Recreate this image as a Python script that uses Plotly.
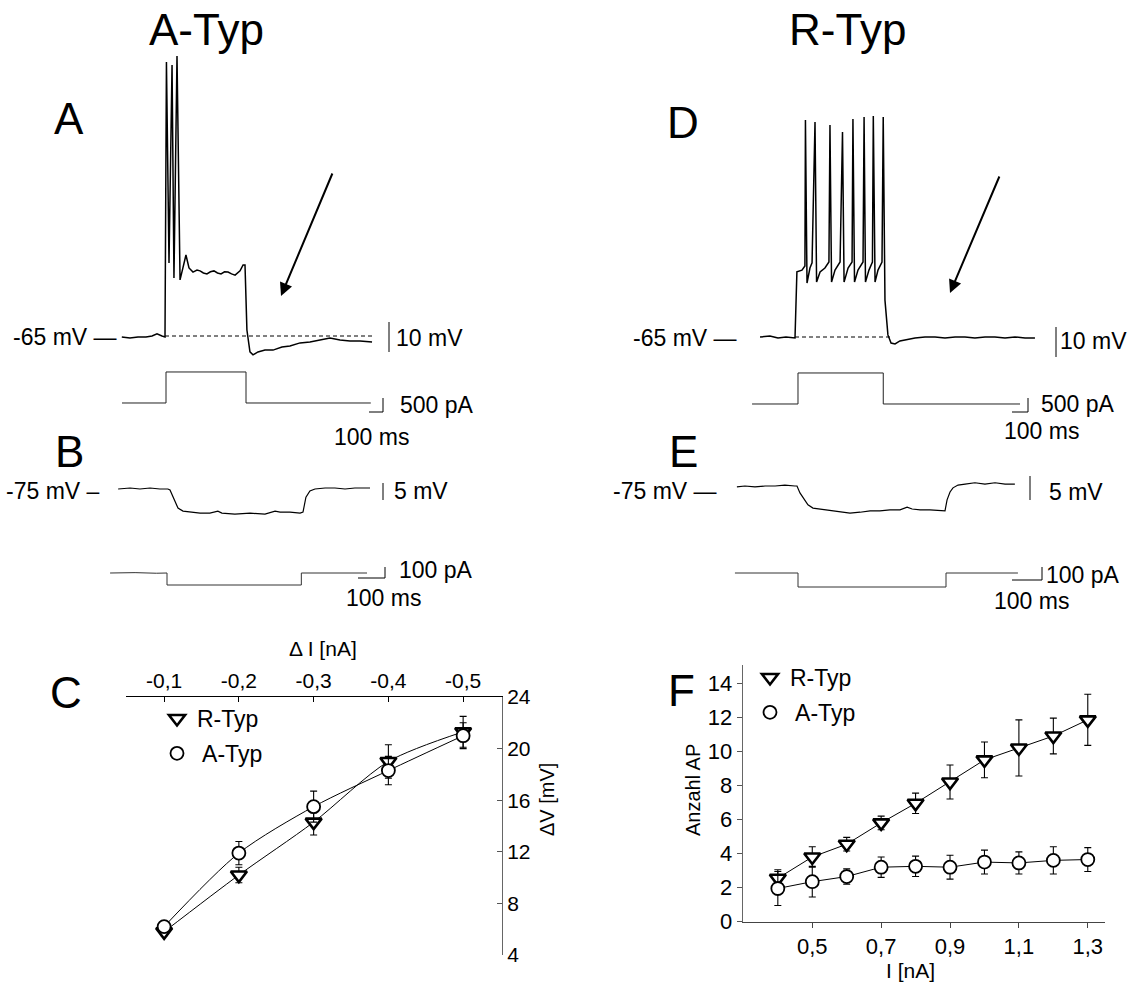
import plotly.graph_objects as go

W, H = 1127, 985
FONT = "Liberation Sans, Arial, Helvetica, sans-serif"

# ---------------- data ----------------
# Panel A (A-Typ, depolarising step): membrane potential [mV] vs time [ms]
A_V_t = [-270, -219, -169, -119, -81, -50, -19, 0, 9, 25, 44, 56, 75, 94, 112, 131, 150, 175,
         200, 219, 240, 262, 284, 306, 328, 350, 372, 394, 416, 438, 469, 488, 500,
         512, 531, 550, 581, 625, 675, 731, 781, 844, 906, 969, 1031, 1094, 1156, 1219, 1294]
A_V_mv = [-65.3, -65.7, -65.3, -65.3, -65.0, -64.3, -65.0, -65.3, 26.3, -40.7, 25.3, -45.7, 28.3, -46.3, -42.3, -38.0, -42.3, -43.7,
          -43.0, -43.3, -44.0, -44.3, -43.6, -43.3, -44.0, -44.3, -43.6, -43.7, -44.3, -44.7, -43.3, -41.3, -41.3,
          -63.0, -70.3, -71.3, -70.3, -69.7, -69.7, -68.7, -68.3, -67.3, -67.0, -66.3, -65.7, -66.3, -66.7, -66.7, -67.0]
A_I_t = [-275, 0, 0, 500, 500, 1280]
A_I_pa = [0, 0, 1100, 1100, 0, 0]
A_rest_t = [0, 1300]
A_rest_mv = [-65, -65]

# Panel B (A-Typ, hyperpolarising step)
B_V_t = [-195, -150, -113, -75, -38, -8, 0, 15, 30, 49, 75, 113, 150, 180, 195, 244, 301, 357, 395, 414,
         451, 489, 500, 511, 526, 545, 583, 620, 658, 695, 752]
B_V_mv = [-75.0, -74.7, -75.0, -74.7, -75.0, -75.0, -75.3, -78.2, -80.6, -81.5, -81.8, -82.1, -82.1, -81.5, -82.1, -82.4, -82.1, -82.4, -81.5, -81.8,
          -81.8, -82.1, -81.8, -77.4, -75.6, -75.0, -74.7, -74.7, -75.0, -74.7, -74.7]
B_I_t = [-214, -120, -40, 0, 0, 200, 400, 505, 505, 600, 752]
B_I_pa = [0, 3, -2, 0, -100, -102, -99, -100, 0, 2, 0]

# Panel D (R-Typ, depolarising step)
D_V_t = [-201, -144, -98, -52, 0, 11, 40, 57, 60, 69, 86, 98, 115, 124, 144, 172, 195, 201, 210, 230, 259, 273, 282,
         305, 328, 333, 342, 362, 391, 397, 405, 425, 445, 450, 460, 477, 500, 507, 517, 534, 552, 575, 603, 649,
         690, 747, 805, 862, 920, 977, 1034, 1092, 1149, 1207, 1264, 1322, 1379]
D_V_mv = [-65.0, -64.7, -65.3, -65.0, -65.3, -43.3, -42.7, -41.3, 7.3, -47.0, -42.0, -40.3, 6.7, -46.7, -43.3, -42.0, -40.0, 5.7, -46.7, -42.7, -40.0, 3.3, -46.7,
          -42.0, -40.0, 7.7, -46.7, -42.7, -40.0, 8.3, -46.7, -42.7, -40.0, 8.7, -46.7, -42.7, -40.0, 8.3, -52.7, -64.3, -67.0, -67.3, -66.3, -65.7,
          -65.3, -65.0, -65.0, -65.3, -65.0, -65.0, -65.3, -65.0, -65.0, -65.3, -65.0, -65.3, -65.3]
D_I_t = [-264, 0, 0, 490, 490, 1276]
D_I_pa = [0, 0, 1100, 1100, 0, 0]
D_rest_t = [0, 546]
D_rest_mv = [-65, -65]

# Panel E (R-Typ, hyperpolarising step)
E_V_t = [-203, -176, -142, -108, -74, -41, -7, 0, 10, 24, 37, 54, 78, 111, 145, 179, 213, 247, 280, 314, 348, 372, 389,
         416, 449, 483, 500, 507, 517, 527, 544, 568, 601, 635, 669, 703, 736]
E_V_mv = [-75.2, -75.0, -75.2, -75.0, -75.0, -74.8, -75.0, -75.0, -76.5, -78.0, -79.1, -79.8, -80.0, -80.4, -80.7, -80.9, -80.7, -80.4, -80.4, -80.2, -80.2, -79.6, -80.0,
          -80.2, -80.2, -80.4, -80.4, -78.0, -76.3, -75.4, -74.8, -74.6, -74.3, -74.6, -74.3, -74.6, -74.6]
E_I_t = [-213, -100, 0, 0, 150, 250, 350, 500, 500, 620, 743]
E_I_pa = [0, 2, 0, -100, -101, -98, -100, -100, 0, 2, 0]

# Panel C: delta V vs delta I
C_dI = [-0.1, -0.2, -0.3, -0.4, -0.5]
C_dI_labels = ["-0,1", "-0,2", "-0,3", "-0,4", "-0,5"]
C_R = [5.8, 10.2, 14.3, 19.0, 21.3]
C_R_err = [0.3, 0.6, 1.0, 1.3, 1.2]
C_A = [6.2, 11.9, 15.5, 18.3, 21.0]
C_A_err = [0.3, 0.9, 1.2, 1.1, 1.0]
C_yticks = [4, 8, 12, 16, 20, 24]

# Panel F: number of APs vs I
F_I = [0.4, 0.5, 0.6, 0.7, 0.8, 0.9, 1.0, 1.1, 1.2, 1.3]
F_xticks = [0.5, 0.7, 0.9, 1.1, 1.3]
F_xtick_labels = ["0,5", "0,7", "0,9", "1,1", "1,3"]
F_R = [2.55, 3.8, 4.55, 5.8, 6.95, 8.2, 9.5, 10.2, 10.9, 11.85]
F_R_err = [0.5, 0.6, 0.4, 0.4, 0.6, 1.0, 1.05, 1.65, 1.05, 1.5]
F_A = [1.95, 2.35, 2.65, 3.2, 3.25, 3.2, 3.5, 3.45, 3.6, 3.65]
F_A_err = [1.0, 0.9, 0.45, 0.6, 0.6, 0.7, 0.7, 0.65, 0.8, 0.7]
F_yticks = [0, 2, 4, 6, 8, 10, 12, 14]

for a, b in [(A_V_t, A_V_mv), (B_V_t, B_V_mv), (D_V_t, D_V_mv), (E_V_t, E_V_mv),
             (A_I_t, A_I_pa), (B_I_t, B_I_pa), (D_I_t, D_I_pa), (E_I_t, E_I_pa)]:
    assert len(a) == len(b)

# ---------------- helpers ----------------
def P(x, y):
    return x / W, 1 - y / H


def domains(ox, oy, sx, sy, xr, yr, yref=0.0):
    xd = [(ox + sx * xr[0]) / W, (ox + sx * xr[1]) / W]
    yd = [1 - (oy - sy * (yr[0] - yref)) / H, 1 - (oy - sy * (yr[1] - yref)) / H]
    return xd, yd


fig = go.Figure()
layout = {}

# invisible axes for the recordings: (ox, oy, px/ms, px/unit, xrange, yrange, yref)
trace_axes = {
    1: (165, 336, 0.16, 3.0, [-300, 1350], [-80, 35], -65),     # A-V
    2: (166, 403, 0.16, 0.0282, [-300, 1350], [-300, 1400], 0),  # A-I
    3: (170, 489, 0.266, 3.4, [-250, 800], [-86, -70], -75),    # B-V
    4: (167, 573, 0.266, 0.12, [-250, 800], [-150, 50], 0),     # B-I
    5: (795, 337, 0.174, 3.0, [-250, 1450], [-80, 35], -65),    # D-V
    6: (798, 404, 0.174, 0.0282, [-300, 1450], [-300, 1400], 0),  # D-I
    7: (797, 486, 0.296, 4.6, [-250, 800], [-83, -72], -75),    # E-V
    8: (798, 573, 0.296, 0.14, [-250, 800], [-150, 50], 0),     # E-I
}
for n, (ox, oy, sx, sy, xr, yr, yref) in trace_axes.items():
    xd, yd = domains(ox, oy, sx, sy, xr, yr, yref)
    xk = "xaxis" if n == 1 else f"xaxis{n}"
    yk = "yaxis" if n == 1 else f"yaxis{n}"
    layout[xk] = dict(domain=xd, range=xr, visible=False, anchor="y" if n == 1 else f"y{n}", fixedrange=True)
    layout[yk] = dict(domain=yd, range=yr, visible=False, anchor="x" if n == 1 else f"x{n}", fixedrange=True)


def ref(n):
    return ("x", "y") if n == 1 else (f"x{n}", f"y{n}")


def add_line(n, x, y, width=1.3, color="black", dash=None):
    xr_, yr_ = ref(n)
    fig.add_trace(go.Scatter(x=x, y=y, mode="lines", xaxis=xr_, yaxis=yr_, showlegend=False,
                             hoverinfo="skip", line=dict(color=color, width=width, dash=dash)))


add_line(1, A_rest_t, A_rest_mv, width=1, dash="4px,3px")
add_line(1, A_V_t, A_V_mv, width=1.5)
add_line(2, A_I_t, A_I_pa, width=1, color="#222")
add_line(3, B_V_t, B_V_mv, width=1.2)
add_line(4, B_I_t, B_I_pa, width=1, color="#333")
add_line(5, D_rest_t, D_rest_mv, width=1, dash="4px,3px")
add_line(5, D_V_t, D_V_mv, width=1.5)
add_line(6, D_I_t, D_I_pa, width=1, color="#222")
add_line(7, E_V_t, E_V_mv, width=1.2)
add_line(8, E_I_t, E_I_pa, width=1, color="#333")

# ---------------- Panel C ----------------
tri = dict(symbol="triangle-down", size=14, color="white", line=dict(color="black", width=2.6))
circ = dict(symbol="circle", size=13, color="white", line=dict(color="black", width=1.8))
errs = dict(type="data", thickness=1.1, width=3.5, color="black")

fig.add_trace(go.Scatter(x=C_dI, y=C_R, mode="lines+markers", xaxis="x9", yaxis="y9", showlegend=False,
                         line=dict(color="black", width=1, shape="spline", smoothing=0.8), marker=tri,
                         error_y=dict(array=C_R_err, **errs)))
fig.add_trace(go.Scatter(x=C_dI, y=C_A, mode="lines+markers", xaxis="x9", yaxis="y9", showlegend=False,
                         line=dict(color="black", width=1, shape="spline", smoothing=0.8), marker=circ,
                         error_y=dict(array=C_A_err, **errs)))
fig.add_trace(go.Scatter(x=[None], y=[None], mode="markers", xaxis="x9", yaxis="y9", name="R-Typ",
                         marker=tri, legend="legend", legendgroup="r"))
fig.add_trace(go.Scatter(x=[None], y=[None], mode="markers", xaxis="x9", yaxis="y9", name=" A-Typ",
                         marker=circ, legend="legend", legendgroup="a"))

layout["xaxis9"] = dict(domain=[126 / W, 502 / W], range=[-0.049, -0.552], side="top", anchor="y9",
                        tickvals=C_dI, ticktext=C_dI_labels, ticks="inside", ticklen=5, tickcolor="black",
                        showline=True, linecolor="black", linewidth=1, showgrid=False, zeroline=False,
                        tickfont=dict(size=21, color="black", family=FONT), fixedrange=True)
layout["yaxis9"] = dict(domain=[1 - 955 / H, 1 - 697 / H], range=[4, 24], side="right", anchor="x9",
                        tickvals=C_yticks, ticks="inside", ticklen=5, tickcolor="#555",
                        showline=True, linecolor="#666", linewidth=1, showgrid=False, zeroline=False,
                        tickfont=dict(size=21, color="black", family=FONT), fixedrange=True)

# ---------------- Panel F ----------------
fig.add_trace(go.Scatter(x=F_I, y=F_R, mode="lines+markers", xaxis="x10", yaxis="y10", showlegend=False,
                         line=dict(color="black", width=1), marker=tri,
                         error_y=dict(array=F_R_err, **errs)))
fig.add_trace(go.Scatter(x=F_I, y=F_A, mode="lines+markers", xaxis="x10", yaxis="y10", showlegend=False,
                         line=dict(color="black", width=1), marker=circ,
                         error_y=dict(array=F_A_err, **errs)))
fig.add_trace(go.Scatter(x=[None], y=[None], mode="markers", xaxis="x10", yaxis="y10", name="R-Typ",
                         marker=tri, legend="legend2", legendgroup="r2"))
fig.add_trace(go.Scatter(x=[None], y=[None], mode="markers", xaxis="x10", yaxis="y10", name=" A-Typ",
                         marker=circ, legend="legend2", legendgroup="a2"))

layout["xaxis10"] = dict(domain=[742.7 / W, 1105 / W], range=[0.298, 1.35], anchor="y10",
                         tickvals=F_xticks, ticktext=F_xtick_labels, ticks="outside", ticklen=5, tickcolor="#444",
                         showline=True, linecolor="#444", linewidth=1, showgrid=False, zeroline=False,
                         tickfont=dict(size=22, color="black", family=FONT), fixedrange=True)
layout["yaxis10"] = dict(domain=[1 - 921.7 / H, 1 - 665 / H], range=[0, 15.07], anchor="x10",
                         tickvals=F_yticks, ticks="outside", ticklen=5, tickcolor="#555",
                         showline=True, linecolor="#666", linewidth=1, showgrid=False, zeroline=False,
                         tickfont=dict(size=22, color="black", family=FONT), fixedrange=True)

# ---------------- annotations ----------------
annotations = []


def txt(text, x, y, size=23, xanchor="center", yanchor="middle", angle=0, color="black"):
    px_, py_ = P(x, y)
    annotations.append(dict(text=text, x=px_, y=py_, xref="paper", yref="paper", showarrow=False,
                            xanchor=xanchor, yanchor=yanchor, textangle=angle,
                            font=dict(size=size, color=color, family=FONT)))


txt("A-Typ", 206, 30, size=44)
txt("R-Typ", 847, 29, size=44)
for letter, x, y in [("A", 69, 118), ("D", 683, 122), ("B", 69, 451), ("E", 683, 451),
                     ("C", 66, 692), ("F", 681, 690)]:
    txt(letter, x, y, size=44)

txt("-65 mV —", 119, 337, xanchor="right")
txt("-65 mV —", 739, 338, xanchor="right")
txt("-75 mV –", 102, 491, xanchor="right")
txt("-75 mV —", 719, 491, xanchor="right")

txt("10 mV", 394, 338, xanchor="left")
txt("500 pA", 398, 405, xanchor="left")
txt("100 ms", 332, 437, xanchor="left")
txt("10 mV", 1058, 341, xanchor="left")
txt("500 pA", 1039, 404, xanchor="left")
txt("100 ms", 1002, 431, xanchor="left")
txt("5 mV", 392, 491, xanchor="left")
txt("100 pA", 397, 570, xanchor="left")
txt("100 ms", 344, 598, xanchor="left")
txt("5 mV", 1047, 492, xanchor="left")
txt("100 pA", 1044, 575, xanchor="left")
txt("100 ms", 992, 601, xanchor="left")

txt("Δ I [nA]", 323, 648, size=21)
txt("ΔV [mV]", 547, 800, size=20, angle=-90)
txt("Anzahl AP", 693, 790, size=20, angle=-90)
txt("I [nA]", 910, 970, size=21)

# arrows (head, tail)
for (hx, hy), (tx, ty) in [((281, 296), (333, 172)), ((950, 293), (1000, 175))]:
    px_, py_ = P(hx, hy)
    annotations.append(dict(x=px_, y=py_, xref="paper", yref="paper", ax=tx - hx, ay=ty - hy,
                            axref="pixel", ayref="pixel", showarrow=True, arrowhead=2, arrowsize=1.3,
                            arrowwidth=2, arrowcolor="black", text=""))

# ---------------- scale bars (paper pixels) ----------------
shapes = []


def seg(x0, y0, x1, y1, color="black", width=1):
    a0, b0 = P(x0, y0)
    a1, b1 = P(x1, y1)
    shapes.append(dict(type="line", xref="paper", yref="paper", x0=a0, y0=b0, x1=a1, y1=b1,
                       line=dict(color=color, width=width)))


seg(389, 322, 389, 352)
seg(383, 398, 383, 412)
seg(369, 412, 383, 412)
seg(1056, 327, 1056, 357)
seg(1028, 398, 1028, 412)
seg(1012, 412, 1028, 412)
seg(383, 483, 383, 500)
seg(385, 567, 385, 578)
seg(358, 578, 385, 578)
seg(1030, 476, 1030, 500)
seg(1042, 567, 1042, 580)
seg(1012, 580, 1042, 580)

lx, ly = P(157, 697)
l2x, l2y = P(750, 656)
leg = dict(xanchor="left", yanchor="top", bgcolor="rgba(0,0,0,0)", borderwidth=0,
           font=dict(size=23, color="black", family=FONT), tracegroupgap=2, traceorder="grouped")

fig.update_layout(
    width=W, height=H, margin=dict(l=0, r=0, t=0, b=0, autoexpand=False),
    paper_bgcolor="white", plot_bgcolor="rgba(0,0,0,0)",
    font=dict(family=FONT, color="black"),
    annotations=annotations, shapes=shapes,
    legend=dict(x=lx, y=ly, **leg),
    legend2=dict(x=l2x, y=l2y, **leg),
    **layout,
)

fig.write_html("out.html", config={"displayModeBar": False},
               post_script="document.body.style.margin='0px';")
